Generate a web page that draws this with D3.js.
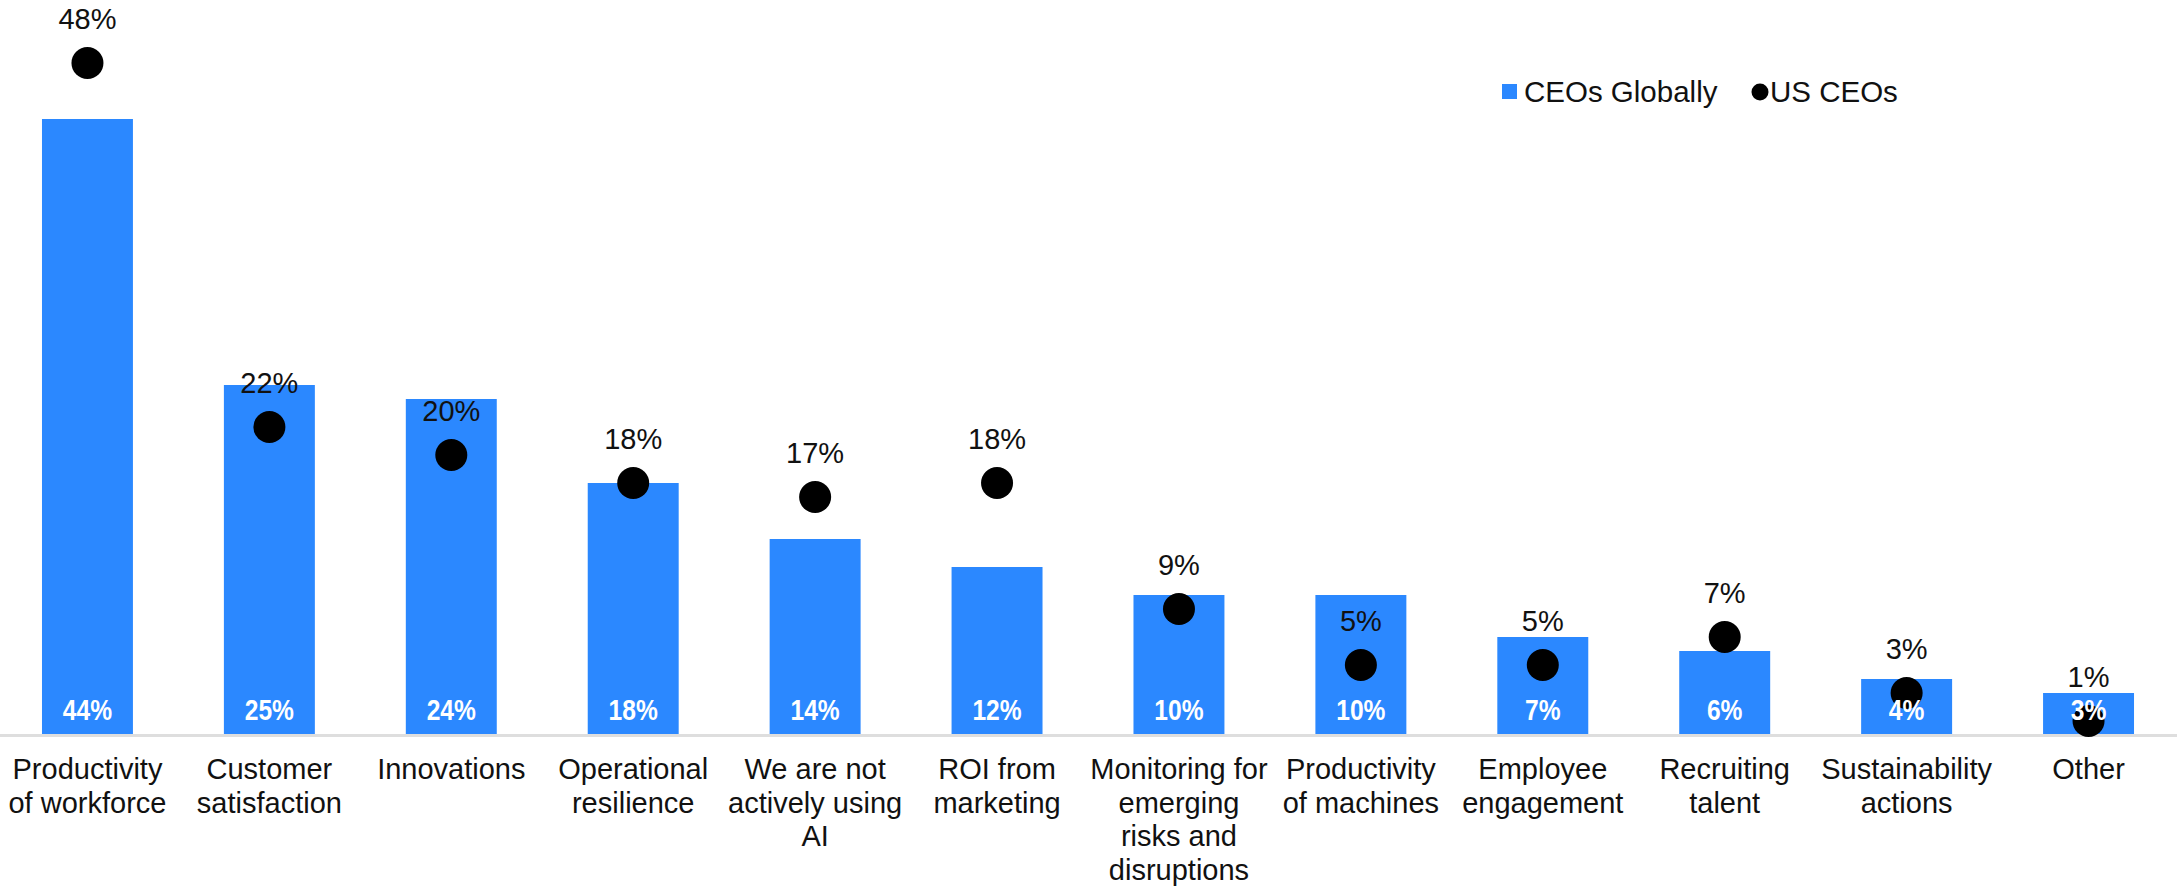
<!DOCTYPE html>
<html>
<head>
<meta charset="utf-8">
<script src="https://cdn.jsdelivr.net/npm/d3@7"></script>
<style>
  html, body { margin: 0; padding: 0; background: #ffffff; }
  svg { display: block; font-family: "Liberation Sans", Arial, sans-serif; }
</style>
</head>
<body>
<svg id="chart" width="2177" height="889"></svg>
<script>
// AI benefit areas: share of CEOs globally (bars) vs US CEOs (dots)
const categories = [
  "Productivity of workforce",
  "Customer satisfaction",
  "Innovations",
  "Operational resilience",
  "We are not actively using AI",
  "ROI from marketing",
  "Monitoring for emerging risks and disruptions",
  "Productivity of machines",
  "Employee engagement",
  "Recruiting talent",
  "Sustainability actions",
  "Other"
];
const categoryLines = [
  ["Productivity", "of workforce"],
  ["Customer", "satisfaction"],
  ["Innovations"],
  ["Operational", "resilience"],
  ["We are not", "actively using", "AI"],
  ["ROI from", "marketing"],
  ["Monitoring for", "emerging", "risks and", "disruptions"],
  ["Productivity", "of machines"],
  ["Employee", "engagement"],
  ["Recruiting", "talent"],
  ["Sustainability", "actions"],
  ["Other"]
];
const globalValues = [44, 25, 24, 18, 14, 12, 10, 10, 7, 6, 4, 3];
const usValues     = [48, 22, 20, 18, 17, 18, 9, 5, 5, 7, 3, 1];
const seriesNames  = ["CEOs Globally", "US CEOs"];

const BAR_COLOR = "#2b88ff";
const DOT_COLOR = "#000000";
const TEXT_COLOR = "#111111";

const svg = d3.select("#chart");

const x = d3.scaleBand()
  .domain(categories)
  .range([-3.5, 2179.5])
  .paddingInner(0.5)
  .paddingOuter(0.25);

const y = d3.scaleLinear()
  .domain([0, 50])
  .range([735, 35]);

const rows = categories.map((c, i) => ({
  cat: c, lines: categoryLines[i], g: globalValues[i], us: usValues[i]
}));
const cx = d => x(d.cat) + x.bandwidth() / 2;

// Category axis along the baseline
const axis = svg.append("g")
  .attr("transform", `translate(0,${y(0)})`)
  .call(d3.axisBottom(x).tickSize(0).tickSizeOuter(0).tickFormat(""));
axis.select(".domain")
  .attr("stroke", "#dedede")
  .attr("stroke-width", 3);

axis.selectAll(".tick").each(function(d, i) {
  const t = d3.select(this).append("text")
    .attr("fill", TEXT_COLOR)
    .attr("text-anchor", "middle")
    .style("font-size", "29px")
    .style("font-family", "'Liberation Sans', Arial, sans-serif");
  categoryLines[i].forEach((line, k) => {
    t.append("tspan")
      .attr("x", 0)
      .attr("y", 44 + k * 33.5)
      .text(line);
  });
});

// Bars: CEOs Globally
svg.append("g").selectAll("rect")
  .data(rows)
  .join("rect")
  .attr("x", d => x(d.cat))
  .attr("y", d => y(d.g))
  .attr("width", x.bandwidth())
  .attr("height", d => y(0) - y(d.g) - 1)
  .attr("fill", BAR_COLOR);

// Dots: US CEOs
svg.append("g").selectAll("circle")
  .data(rows)
  .join("circle")
  .attr("cx", cx)
  .attr("cy", d => y(d.us))
  .attr("r", 16)
  .attr("fill", DOT_COLOR);

// Dot value labels
svg.append("g").selectAll("text")
  .data(rows)
  .join("text")
  .attr("x", cx)
  .attr("y", d => y(d.us) - 34)
  .attr("text-anchor", "middle")
  .attr("fill", TEXT_COLOR)
  .style("font-size", "29px")
  .text(d => d.us + "%");

// Bar value labels: white, bold, narrow, near the base
svg.append("g").selectAll("text")
  .data(rows)
  .join("text")
  .attr("transform", d => `translate(${cx(d)},${y(0) - 15}) scale(0.82,1)`)
  .attr("text-anchor", "middle")
  .attr("fill", "#ffffff")
  .style("font-size", "30px")
  .style("font-weight", "bold")
  .text(d => d.g + "%");

// Legend
const legend = svg.append("g").attr("transform", "translate(1502,92)");
legend.append("rect")
  .attr("x", 0).attr("y", -8)
  .attr("width", 15).attr("height", 15)
  .attr("fill", BAR_COLOR);
legend.append("text")
  .attr("x", 22).attr("y", 10)
  .attr("fill", TEXT_COLOR)
  .style("font-size", "29.5px")
  .text(seriesNames[0]);
legend.append("circle")
  .attr("cx", 258).attr("cy", 0)
  .attr("r", 8.5)
  .attr("fill", DOT_COLOR);
legend.append("text")
  .attr("x", 268).attr("y", 10)
  .attr("fill", TEXT_COLOR)
  .style("font-size", "29.5px")
  .text(seriesNames[1]);
</script>
</body>
</html>
